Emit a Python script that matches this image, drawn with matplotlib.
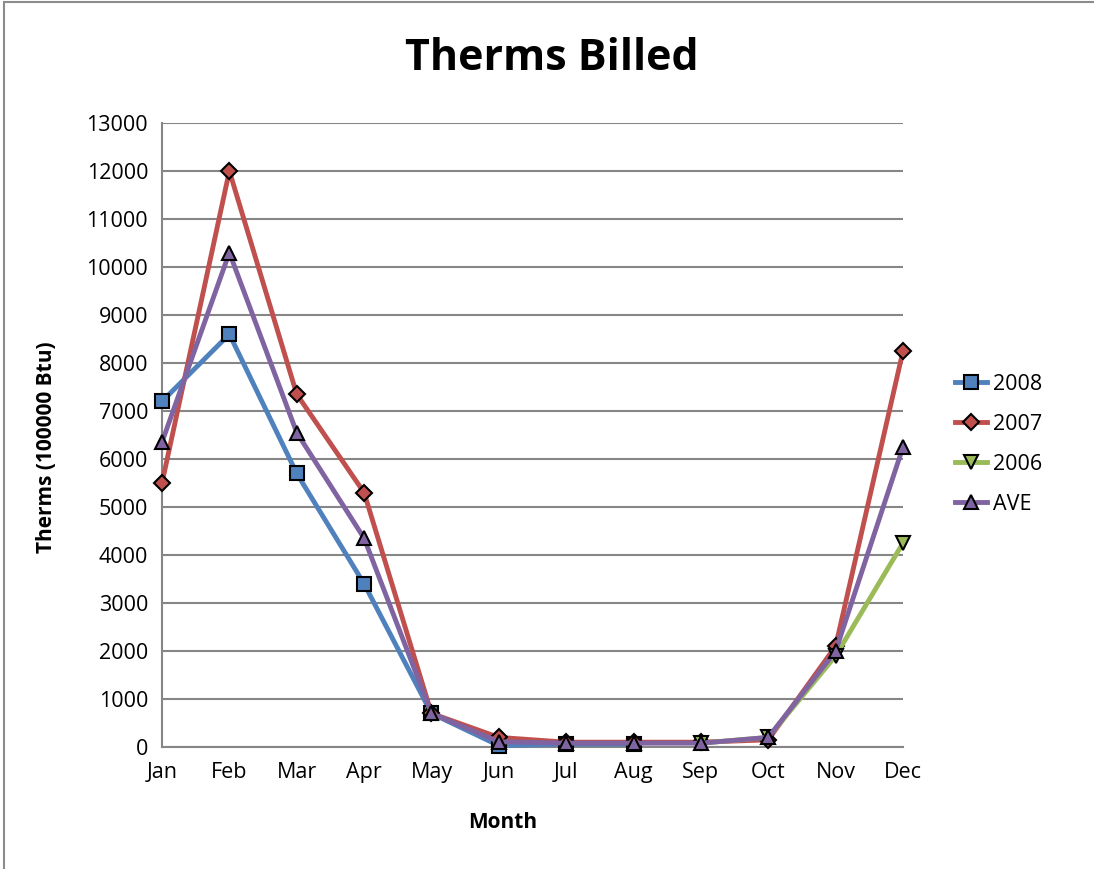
import numpy as np
import matplotlib
matplotlib.use("Agg")
import matplotlib.pyplot as plt
from matplotlib.patches import Rectangle

months = ["Jan", "Feb", "Mar", "Apr", "May", "Jun", "Jul", "Aug", "Sep", "Oct", "Nov", "Dec"]
nan = np.nan
s2008 = [7200, 8600, 5700, 3400, 700, 30, 60, 60, nan, nan, nan, nan]
s2007 = [5500, 12000, 7350, 5300, 700, 200, 100, 100, 100, 150, 2100, 8250]
s2006 = [nan, nan, nan, nan, nan, nan, nan, nan, 80, 200, 1900, 4250]
ave = [6350, 10300, 6550, 4350, 700, 110, 80, 80, 80, 200, 2000, 6250]
yticks = list(range(0, 13001, 1000))

plt.rcParams['font.family'] = ['Open Sans', 'DejaVu Sans']

fig = plt.figure(figsize=(10.94, 8.69), dpi=100)
ax = fig.add_axes([162/1094, (869-747)/869, (903-162)/1094, (747-123)/869])

fig.add_artist(Rectangle((4/1094, -0.1), 1.2, (869-2)/869 + 0.1, transform=fig.transFigure,
                         fill=False, edgecolor='#8c8c8c', linewidth=1.5))

x = np.arange(len(months))
series = [
    ("2008", s2008, '#4F81BD', 's', 10),
    ("2007", s2007, '#C0504D', 'D', 8),
    ("2006", s2006, '#9BBB59', 'v', 10),
    ("AVE", ave, '#8064A2', '^', 10),
]
for name, vals, col, mk, ms in series:
    ax.plot(x, vals, color=col, linewidth=3.5, marker=mk, markersize=ms,
            markerfacecolor=col, markeredgecolor='black', markeredgewidth=1.5,
            label=name, clip_on=False, zorder=3)

ax.set_xlim(0, 11)
ax.set_ylim(0, 13000)
ax.set_yticks(yticks)
ax.set_xticks(x)
ax.set_xticklabels(months)
ax.tick_params(axis='both', length=0, labelsize=15.5, colors='black')
ax.tick_params(axis='y', pad=10)
ax.tick_params(axis='x', pad=11)
ax.yaxis.grid(True, color='#868686', linewidth=1.5)
ax.set_axisbelow(True)
for sp in ['top', 'right']:
    ax.spines[sp].set_visible(False)
ax.spines['left'].set_color('#868686')
ax.spines['bottom'].set_color('#868686')
ax.spines['left'].set_linewidth(1.5)
ax.spines['bottom'].set_linewidth(1.5)

fig.text(552/1094, 1 - 58/869, "Therms Billed", ha='center', va='center',
         fontsize=31, fontweight='bold')
fig.text(47/1094, 1 - 447/869, "Therms (100000 Btu)", ha='center', va='center',
         rotation=90, fontsize=15, fontweight='bold')
fig.text(503/1094, 1 - 823/869, "Month", ha='center', va='center',
         fontsize=15, fontweight='bold')

leg = ax.legend(loc='upper left', bbox_to_anchor=(955/1094, 1 - 374/869),
                bbox_transform=fig.transFigure, frameon=False, fontsize=15.5,
                handlelength=1.5, handletextpad=0.25, labelspacing=0.88,
                borderaxespad=0, borderpad=0)

fig.savefig("out.png", dpi=100)
